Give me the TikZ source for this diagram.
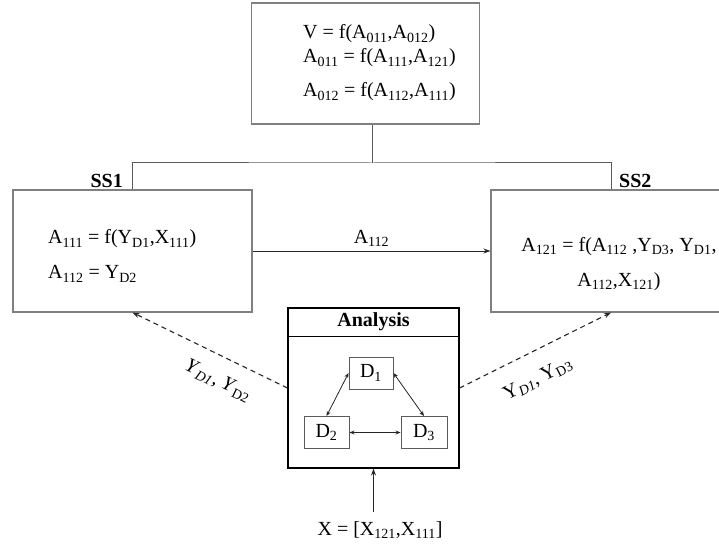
\documentclass[tikz,border=0pt]{standalone}
\usepackage{fontspec}
\setmainfont{Liberation Serif}
\usetikzlibrary{arrows.meta,calc}
\newcommand{\subx}[1]{\textsubscript{#1}}
\definecolor{boxgray}{HTML}{808080}
\definecolor{lngray}{HTML}{5A5A5A}
\tikzset{
  bx/.style={draw=boxgray, line width=1.1pt, rectangle, inner sep=0pt},
  dbox/.style={draw=lngray, line width=0.9pt, rectangle, inner sep=0pt, minimum height=32pt},
  txt/.style={inner sep=0pt, align=left},
  conn/.style={draw=lngray, line width=1pt},
  arr/.style={draw=black!85, line width=1pt, -{Stealth[length=7pt,width=5pt]}},
  darr/.style={draw=black!85, line width=0.8pt, {Stealth[length=5pt,width=4pt]}-{Stealth[length=5pt,width=4pt]}},
  dasharr/.style={draw=black!85, line width=1.1pt, dash pattern=on 5pt off 4pt, -{Stealth[length=7pt,width=5pt]}},
  lbl/.style={inner sep=0pt, font=\fontsize{20}{24}\selectfont\bfseries}
}
\begin{document}
\begin{tikzpicture}[x=1pt,y=-1pt,font=\fontsize{20}{24}\selectfont]
\useasboundingbox (0,0) rectangle (719,548);
\clip (0,0) rectangle (719,548);
\fill[white] (0,0) rectangle (719,548);
% top box
\node[bx, minimum width=228pt, minimum height=121pt] (top) at (365.5,63.5) {};
\node[txt, anchor=west] (toptext) at (303,63) {V = f(A\subx{011},A\subx{012})\\ A\subx{011} = f(A\subx{111},A\subx{121})\\[10pt] A\subx{012} = f(A\subx{112},A\subx{111})};
% subsystem boxes
\node[bx, minimum width=239pt, minimum height=122pt] (ss1) at (132.5,251) {};
\node[txt, anchor=west] (ss1text) at (48,256) {A\subx{111} = f(Y\subx{D1},X\subx{111})\\[11pt] A\subx{112} = Y\subx{D2}};
\node[bx, minimum width=240pt, minimum height=122pt] (ss2) at (611,251) {};
\node[txt, align=center] (ss2text) at (619,264) {A\subx{121} = f(A\subx{112} ,Y\subx{D3}, Y\subx{D1},\\[11pt] A\subx{112},X\subx{121})};
\node[lbl, anchor=base east] (ss1lbl) at (123,187) {SS1};
\node[lbl, anchor=base west] (ss2lbl) at (619,187) {SS2};
% tree connector
\coordinate (junc) at (372,163);
\draw[conn] (top.south -| junc) -- (junc);
\draw[conn] (ss1.north) |- (junc) -| (ss2.north);
% A112 arrow
\draw[arr] (ss1.east) -- node[midway, above=4pt, inner sep=0pt] (a112) {A\subx{112}} (ss2.west);
% analysis block
\node[draw=black, line width=1.1pt, minimum width=171pt, minimum height=160pt, inner sep=0pt] (ana) at (373.5,388) {};
\draw[black, line width=1.1pt] ($(ana.north west)+(0,29)$) -- ($(ana.north east)+(0,29)$);
\node[lbl] (anatitle) at (373.5,322) {Analysis};
\node[dbox, minimum width=44pt] (d1) at (371,373) {D\subx{1}};
\node[dbox, minimum width=45pt] (d2) at (326.5,432.5) {D\subx{2}};
\node[dbox, minimum width=46pt] (d3) at (424,432.5) {D\subx{3}};
\draw[darr] (d1.west) -- (d2.north);
\draw[darr] (d1.east) -- (d3.north);
\draw[darr] (d2.east) -- (d3.west);
% dashed feedback arrows
\draw[dasharr] (ana.west) -- (ss1.south);
\draw[dasharr] (ana.east) -- (ss2.south);
\node[inner sep=0pt, rotate=-26] (ylbl1) at (218,381) {\textit{Y}\subx{\textit{D1}}, \textit{Y}\subx{D2}};
\node[inner sep=0pt, rotate=27] (ylbl2) at (538,379) {Y\subx{\textit{D1}}, Y\subx{D3}};
% input
\node[inner sep=0pt] (xlab) at (380,530) {X = [X\subx{121},X\subx{111}]};
\draw[arr, shorten <=9pt] (xlab.north -| ana.south) -- (ana.south);
\end{tikzpicture}
\end{document}
